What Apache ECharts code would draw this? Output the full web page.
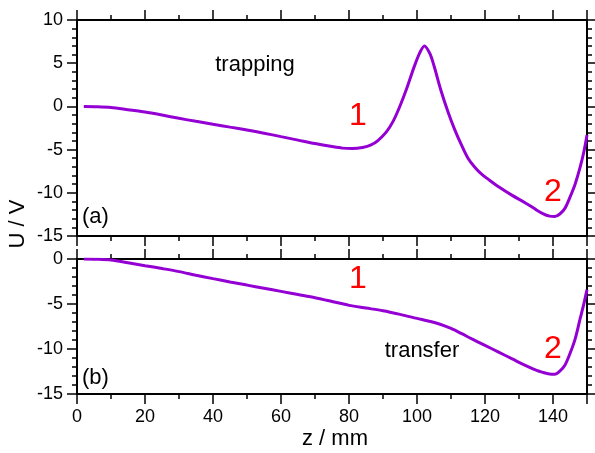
<!DOCTYPE html>
<html>
<head>
<meta charset="utf-8">
<script src="https://cdn.jsdelivr.net/npm/echarts@6/dist/echarts.min.js"></script>
<style>
  html, body { margin: 0; padding: 0; background: #fff; }
  #chart { width: 595px; height: 453px; }
</style>
</head>
<body>
<div id="chart"></div>
<script>
// (a) trapping potential
const zTrap = [2, 6, 10, 15, 20, 25, 30, 35, 40, 45, 50, 55, 60, 65, 70, 75, 78, 81, 84, 86.5, 88.5, 91, 93, 95, 97, 99, 100.8, 102.2, 103.8, 105, 107, 109, 111, 113, 115, 117, 119, 121, 124, 128, 132, 135, 137, 139, 140.5, 142, 143.5, 145, 146.5, 148, 149, 150];
const uTrap = [0, -0.03, -0.12, -0.38, -0.65, -1.0, -1.38, -1.73, -2.07, -2.4, -2.73, -3.1, -3.5, -3.9, -4.3, -4.65, -4.83, -4.88, -4.75, -4.45, -3.95, -2.95, -1.7, 0.05, 2.1, 4.4, 6.2, 7.0, 6.1, 4.7, 1.9, -0.5, -2.6, -4.4, -6.0, -7.05, -7.85, -8.45, -9.3, -10.3, -11.2, -11.95, -12.4, -12.7, -12.75, -12.45, -11.8, -10.5, -9.0, -7.0, -5.4, -3.3];

// (b) transfer potential
const zTrans = [2, 6, 10, 15, 20, 25, 30, 35, 40, 45, 50, 55, 60, 65, 70, 75, 80, 85, 90, 95, 100, 104, 107, 110, 113, 116, 120, 124, 128, 132, 135, 137, 139, 140.5, 142, 143.5, 145, 146.5, 148, 149, 150];
const uTrans = [0, -0.03, -0.12, -0.42, -0.74, -1.06, -1.4, -1.8, -2.18, -2.55, -2.9, -3.25, -3.6, -3.95, -4.3, -4.72, -5.15, -5.45, -5.75, -6.15, -6.6, -6.95, -7.28, -7.72, -8.27, -8.85, -9.6, -10.35, -11.1, -11.85, -12.35, -12.6, -12.78, -12.8, -12.45, -11.8, -10.5, -8.9, -6.6, -5.1, -3.4];

const font = 'Liberation Sans, Arial, sans-serif';
const purple = '#9400d3';

function pairs(xs, ys) {
  return xs.map((x, i) => [x, ys[i]]);
}

function xAx(grid, pos, labels) {
  return {
    type: 'value', gridIndex: grid, position: pos,
    min: 0, max: 150, interval: 20,
    axisLine: { show: true, onZero: false, lineStyle: { color: '#000', width: 2 } },
    axisTick: { show: true, length: 10, lineStyle: { color: '#000', width: 1.5 } },
    minorTick: { show: true, splitNumber: 2, length: 5, lineStyle: { color: '#000', width: 1.5 } },
    axisLabel: { show: labels, showMaxLabel: false, color: '#000', fontSize: 18, fontFamily: font, margin: 14 },
    splitLine: { show: false }
  };
}

function yAx(grid, pos, min, labels) {
  return {
    type: 'value', gridIndex: grid, position: pos,
    min: min, max: grid === 0 ? 10 : 0, interval: 5,
    axisLine: { show: true, onZero: false, lineStyle: { color: '#000', width: 2 } },
    axisTick: { show: true, length: 10, lineStyle: { color: '#000', width: 1.5 } },
    minorTick: { show: true, splitNumber: 5, length: 5, lineStyle: { color: '#000', width: 1.5 } },
    axisLabel: { show: labels, color: '#000', fontSize: 18, fontFamily: font, margin: 14 },
    splitLine: { show: false }
  };
}

function txt(x, y, s, size, color, align) {
  return {
    type: 'text', x: x, y: y,
    style: { text: s, font: size + 'px ' + font, fill: color || '#000', textAlign: align || 'center', textVerticalAlign: 'middle' }
  };
}

const chart = echarts.init(document.getElementById('chart'));

chart.setOption({
  animation: false,
  backgroundColor: '#fff',
  grid: [
    { left: 77, top: 20, width: 510, height: 216, outerBoundsMode: 'none' },
    { left: 77, top: 259, width: 510, height: 135, outerBoundsMode: 'none' }
  ],
  xAxis: [
    xAx(0, 'bottom', false), xAx(0, 'top', false),
    xAx(1, 'bottom', true), xAx(1, 'top', false)
  ],
  yAxis: [
    yAx(0, 'left', -15, true), yAx(0, 'right', -15, false),
    yAx(1, 'left', -15, true), yAx(1, 'right', -15, false)
  ],
  series: [
    {
      type: 'line', xAxisIndex: 0, yAxisIndex: 0, data: pairs(zTrap, uTrap),
      smooth: 0.3, showSymbol: false, lineStyle: { color: purple, width: 3 }
    },
    {
      type: 'line', xAxisIndex: 2, yAxisIndex: 2, data: pairs(zTrans, uTrans),
      smooth: 0.3, showSymbol: false, lineStyle: { color: purple, width: 3 }
    }
  ],
  graphic: [
    txt(255, 65, 'trapping', 22),
    txt(358, 116, '1', 32, '#ff0000'),
    txt(553, 192, '2', 32, '#ff0000'),
    txt(82, 217, '(a)', 22, '#000', 'left'),
    txt(358, 279, '1', 32, '#ff0000'),
    txt(422, 351, 'transfer', 22),
    txt(553, 349, '2', 32, '#ff0000'),
    txt(82, 378, '(b)', 22, '#000', 'left'),
    txt(335, 439, 'z / mm', 22),
    {
      type: 'text', x: 18, y: 224, rotation: Math.PI / 2,
      style: { text: 'U / V', font: '22px ' + font, fill: '#000', textAlign: 'center', textVerticalAlign: 'middle' }
    }
  ]
});
</script>
</body>
</html>
